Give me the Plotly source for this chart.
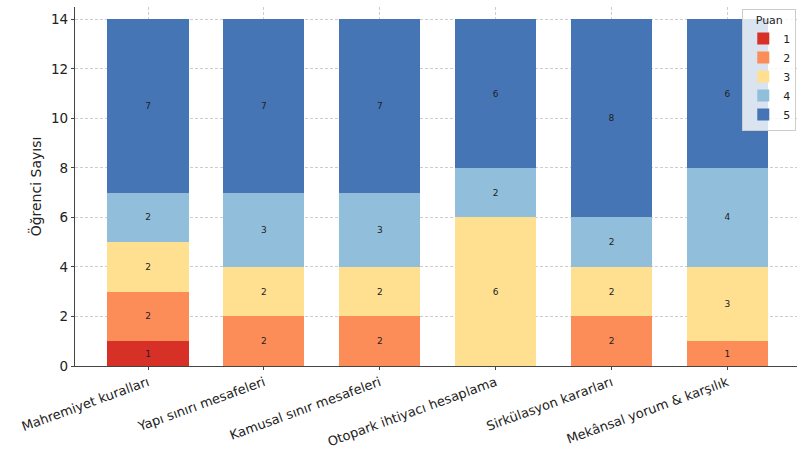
import plotly.graph_objects as go

# Ders başlıkları ve puan dağılımı (öğrenci sayısı)
categories = [
    "Mahremiyet kuralları",
    "Yapı sınırı mesafeleri",
    "Kamusal sınır mesafeleri",
    "Otopark ihtiyacı hesaplama",
    "Sirkülasyon kararları",
    "Mekânsal yorum & karşılık",
]
score_labels = ["1", "2", "3", "4", "5"]
score_1 = [1, 0, 0, 0, 0, 0]
score_2 = [2, 2, 2, 0, 2, 1]
score_3 = [2, 2, 2, 6, 2, 3]
score_4 = [2, 3, 3, 2, 2, 4]
score_5 = [7, 7, 7, 6, 8, 6]
y_ticks = [0, 2, 4, 6, 8, 10, 12, 14]

series = [score_1, score_2, score_3, score_4, score_5]
colors = ["#d73027", "#fc8d59", "#fee090", "#91bfdb", "#4575b4"]

FONT = "DejaVu Sans"
fig = go.Figure()
for name, vals, col in zip(score_labels, series, colors):
    fig.add_trace(go.Bar(
        x=list(range(len(categories))),
        y=vals,
        name=name,
        marker=dict(color=col, line=dict(width=0)),
        width=0.7,
        text=[str(v) if v > 0 else "" for v in vals],
        textposition="inside",
        insidetextanchor="middle",
        textangle=0,
        textfont=dict(family=FONT, size=9, color="#222222"),
    ))

axis_common = dict(
    showgrid=True,
    gridcolor="rgba(200,200,200,0.9)",
    griddash="3px,2px",
    gridwidth=1,
    layer="above traces",
    ticks="outside",
    ticklen=3,
    tickcolor="#444444",
    showline=True,
    linecolor="#444444",
    linewidth=1.2,
    zeroline=False,
    automargin=False,
)

fig.update_layout(
    barmode="stack",
    width=797,
    height=451,
    margin=dict(l=75, r=0, t=7, b=85),
    plot_bgcolor="white",
    paper_bgcolor="white",
    font=dict(family=FONT, color="#222222"),
    xaxis=dict(
        **axis_common,
        tickmode="array",
        tickvals=list(range(len(categories))),
        ticktext=categories,
        tickangle=-20,
        tickfont=dict(family=FONT, size=13, color="#222222"),
        range=[-0.63, 5.6],
    ),
    yaxis=dict(
        **axis_common,
        tickvals=y_ticks,
        range=[0, 14.5],
        tickfont=dict(family=FONT, size=13.5, color="#222222"),
        title=dict(text="Öğrenci Sayısı", font=dict(family=FONT, size=14), standoff=6),
    ),
    legend=dict(
        title=dict(text="Puan", side="top center", font=dict(family=FONT, size=11)),
        traceorder="normal",
        x=0.999,
        y=0.995,
        xanchor="right",
        yanchor="top",
        bgcolor="rgba(255,255,255,0.8)",
        bordercolor="#cccccc",
        borderwidth=1,
        font=dict(family=FONT, size=11),
        itemwidth=30,
        tracegroupgap=0,
    ),
    bargap=0.3,
)

fig.write_html("out.html")
